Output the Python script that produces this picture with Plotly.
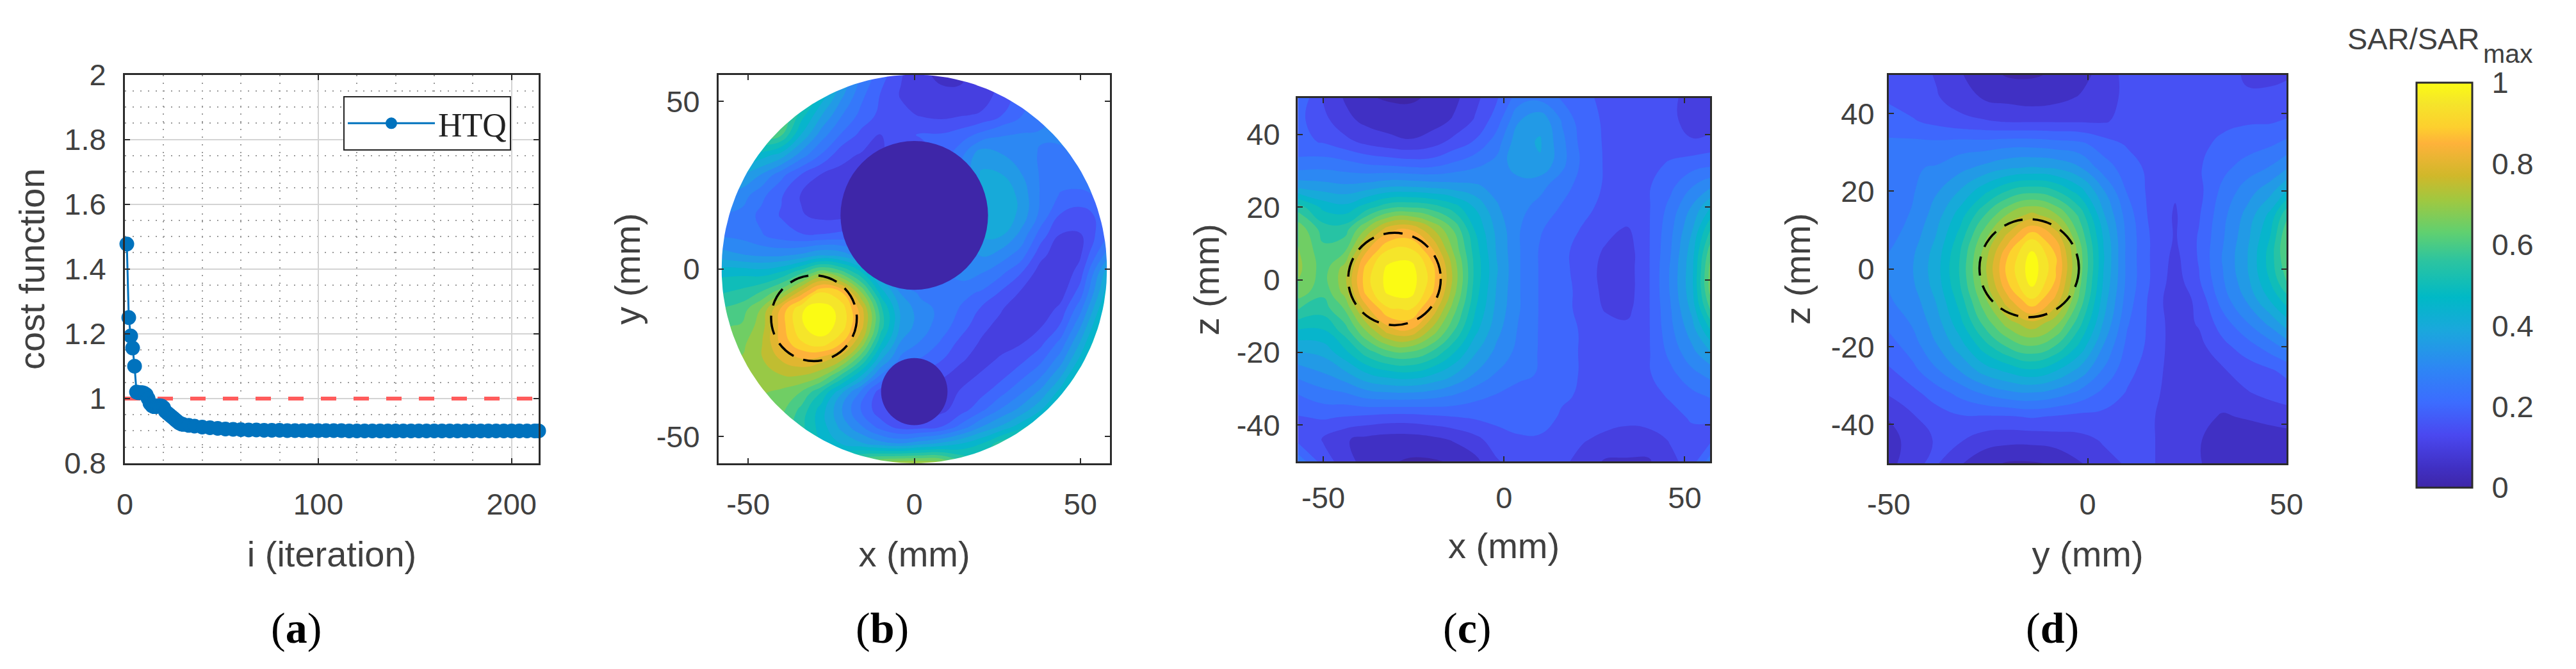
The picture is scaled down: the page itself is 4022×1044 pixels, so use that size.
import numpy as np
import plotly.graph_objects as go

W, H = 4022, 1044

# ---------- data ----------
iter_x = [1,2,3,4,5,6,7,8,9,10,11,12,13,14,15,16,17,18,19,20,21,22,23,24,25,26,27,28,29,30,
          33,36,40,44,48,52,56,60,64,68,72,76,80,84,88,92,96,100,104,108,112,116,120,124,128,
          132,136,140,144,148,152,156,160,164,168,172,176,180,184,188,192,196,200,204,208,212,214]
iter_y = [1.477,1.25,1.193,1.156,1.10,1.02,1.018,1.018,1.018,1.016,1.012,1.0,0.985,0.978,0.975,
          0.975,0.977,0.978,0.977,0.972,0.96,0.955,0.95,0.945,0.94,0.935,0.93,0.925,0.922,0.92,
          0.917,0.915,0.912,0.91,0.908,0.906,0.905,0.904,0.903,0.903,0.902,0.902,0.902,0.901,0.901,
          0.901,0.901,0.901,0.901,0.901,0.901,0.90,0.90,0.90,0.90,0.90,0.90,0.90,0.90,0.90,0.90,
          0.90,0.90,0.90,0.90,0.90,0.90,0.90,0.90,0.90,0.90,0.90,0.90,0.90,0.90,0.90,0.90]
limit_x = [0, 214]
limit_y = [1, 1]

# SAR fields, in percent of the maximum
b_x = [-58,-52,-46,-40,-34,-28,-22,-16,-10,-4,2,8,14,20,26,32,38,44,50,58]
b_y = [58,52,46,40,34,28,22,16,10,4,-1,-7,-12,-17,-22,-27,-32,-37,-42,-47,-52,-58]
b_z = [
 [75,75,75,72,65,50,38,27,20,13,8,7,7,9,13,22,30,30,30,30],
 [75,75,75,70,60,46,34,24,17,12,9,8,8,10,14,20,28,30,32,32],
 [75,75,72,65,50,38,28,21,16,14,12,11,12,13,17,22,26,29,31,33],
 [70,68,62,58,42,30,22,16,12,16,18,18,20,24,27,28,28,28,29,30],
 [48,48,45,40,30,22,14,12,12,15,15,18,26,36,33,30,27,27,28,30],
 [38,37,32,24,17,12,11,11,13,15,15,15,28,38,38,33,27,25,26,28],
 [32,30,24,18,12,11,10,11,13,15,15,15,28,40,42,36,27,22,21,24],
 [27,26,21,17,13,11,11,12,15,15,15,15,26,40,42,36,26,17,15,20],
 [27,26,23,20,18,18,19,20,15,15,15,15,26,38,38,31,20,12,12,22],
 [35,33,32,32,34,38,36,30,26,15,15,20,28,33,30,25,14,9,12,30],
 [46,46,45,48,56,66,60,48,34,15,15,25,30,28,24,18,10,8,15,40],
 [52,54,58,66,80,93,88,68,45,32,26,24,24,22,17,12,9,10,20,45],
 [58,60,68,84,97,100,96,80,54,36,30,26,22,17,13,9,9,14,26,50],
 [62,63,70,85,97,100,96,80,55,36,30,25,20,14,11,10,12,18,32,55],
 [65,66,72,84,92,96,88,72,48,32,27,22,16,12,11,12,16,24,38,60],
 [68,68,72,78,82,80,74,58,38,26,22,18,13,11,13,16,21,30,44,65],
 [70,70,70,72,72,68,56,42,26,15,15,13,11,13,16,21,27,37,52,70],
 [70,70,68,66,62,52,38,26,14,10,10,10,13,16,21,27,34,45,60,72],
 [70,70,66,64,56,45,33,22,14,10,10,11,15,21,28,34,42,52,70,72],
 [70,70,66,62,54,45,36,28,20,15,15,17,24,32,38,45,55,65,72,72],
 [70,70,66,62,55,48,42,38,34,32,35,38,42,47,55,62,70,72,72,72],
 [70,70,66,62,58,55,58,65,70,72,72,70,60,55,60,70,72,72,72,72],
]
c_x = [-57,-50,-44,-38,-32,-26,-20,-14,-8,-2,4,10,16,22,28,34,40,46,52,57]
c_y = [50,44,38,32,26,20,14,8,3,-3,-8,-14,-20,-26,-32,-38,-44,-50]
c_z = [
 [22,12,7,3,2,2,3,6,11,17,25,26,22,18,17,16,16,14,10,10],
 [19,14,9,6,5,4,5,8,13,20,32,36,27,19,17,16,16,14,10,10],
 [19,17,14,11,9,8,10,14,18,25,36,38,29,20,17,16,16,15,13,14],
 [24,25,24,22,21,20,20,23,26,29,36,37,29,21,17,16,16,18,20,21],
 [35,34,33,34,36,36,35,34,33,31,30,29,25,20,17,16,17,21,27,31],
 [55,46,44,50,56,57,55,50,42,33,29,26,22,19,16,15,17,24,33,42],
 [66,55,55,68,80,82,73,62,47,36,28,23,20,17,14,12,17,26,37,52],
 [68,59,62,82,93,94,84,67,50,37,28,22,19,15,12,10,17,27,40,60],
 [69,60,70,90,99,100,90,71,51,38,28,22,19,15,11,10,17,28,41,64],
 [66,59,70,90,99,100,89,70,50,37,28,22,19,16,11,10,17,28,41,64],
 [58,55,63,81,92,93,82,65,48,36,28,22,19,16,12,11,17,27,39,58],
 [47,47,55,68,80,82,71,58,44,34,27,22,19,17,15,14,17,26,35,47],
 [37,39,46,55,61,62,57,48,38,31,26,22,19,17,16,16,17,24,31,37],
 [29,32,36,42,45,46,43,38,32,27,24,22,19,17,16,16,17,21,26,29],
 [22,25,26,29,30,30,29,27,24,22,20,20,18,17,16,16,16,18,21,23],
 [17,18,17,16,15,15,16,17,18,19,19,19,17,16,15,14,15,16,18,18],
 [16,12,8,6,5,5,6,8,11,15,17,17,16,13,11,10,10,13,16,16],
 [26,15,10,5,3,2,2,3,6,12,15,16,14,10,7,7,7,11,15,25],
]
d_x = [-50,-44,-38,-32,-26,-20,-14,-8,-2,4,10,16,22,28,34,40,46,50]
d_y = [50,44,38,32,26,20,14,8,3,-3,-8,-14,-20,-26,-32,-38,-44,-50]
d_z = [
 [17,15,12,8,4,2,2,3,5,10,14,17,17,17,14,12,12,12],
 [17,15,13,10,7,6,5,6,8,10,14,17,17,17,15,13,13,14],
 [19,18,16,14,13,12,12,12,12,12,14,16,17,17,17,17,17,18],
 [24,24,24,25,25,26,26,25,24,20,17,16,17,17,18,20,22,24],
 [27,27,28,31,34,37,38,37,33,25,20,16,16,17,21,25,28,32],
 [25,27,32,38,46,53,56,53,45,33,22,16,13,16,24,30,36,43],
 [25,28,35,45,57,68,74,68,56,38,25,16,12,17,26,34,44,56],
 [26,30,38,50,66,80,92,82,62,42,26,17,12,18,27,36,48,62],
 [28,32,40,53,70,88,100,88,65,43,26,17,11,18,28,37,50,62],
 [28,32,40,53,70,88,100,87,64,42,26,17,10,17,27,36,48,58],
 [27,30,38,50,66,81,92,81,61,40,25,16,9,14,25,33,43,50],
 [24,28,35,46,59,70,76,69,54,37,23,16,10,13,20,27,34,40],
 [20,25,32,40,50,58,62,57,46,32,21,16,10,11,16,20,25,29],
 [17,21,27,33,40,44,47,43,36,27,19,15,10,10,12,15,17,19],
 [13,16,20,24,28,31,32,30,26,21,17,14,10,9,10,12,14,15],
 [8,12,15,17,17,17,18,17,16,16,15,13,10,9,7,8,9,10],
 [5,10,13,13,10,9,9,10,11,13,14,13,10,8,4,4,5,5],
 [5,12,13,8,4,2,2,3,7,11,13,13,10,8,4,4,4,3],
]
# (centre_x, centre_y, radius_x, radius_y)
b_dark = [(0, 16, 22.2, 22.2), (0, -36.6, 10, 10)]
b_target = (-30.2, -14.7, 12.9, 12.8)
c_target = (-30.3, 0.2, 12.8, 12.7)
d_target = (-14.7, 0.2, 12.5, 12.6)
phantom_radius = 58

# ---------- style ----------
TXT = "#404040"
FRAME = "#2b2b2b"
SANS = "Liberation Sans"
SERIF = "Liberation Serif"
FS = 47
FT = 56
parula = [[0,"#3e26a8"],[.05,"#4030c4"],[.13,"#4a48f0"],[.21,"#3c6cff"],[.29,"#2e85f5"],[.39,"#1aa8dc"],
          [.47,"#00b9c6"],[.56,"#2cc4a0"],[.63,"#60d070"],[.71,"#a0c840"],[.77,"#d0b82a"],[.85,"#feb23a"],
          [.89,"#fdcf2e"],[.95,"#f5e52a"],[1,"#fbfb14"]]

boxes = {
 "a": (195, 841, 116.5, 723),
 "b": (1122, 1733, 116.5, 723),
 "c": (2026, 2670, 153, 720),
 "d": (2949, 3570, 116.5, 723),
}
def dom(k):
    x0, x1, y0, y1 = boxes[k]
    return [x0/W, x1/W], [1-y1/H, 1-y0/H]

fig = go.Figure()

def axis(dom_, rng, ticks, title, standoff, lblgap, anchor=None):
    d = dict(domain=dom_, range=rng, tickvals=ticks, ticktext=[str(t) for t in ticks], automargin=False,
             showgrid=False, zeroline=False, showline=True, mirror="ticks", linecolor=FRAME,
             linewidth=3, ticks="inside", ticklen=8, tickwidth=2, tickcolor=FRAME,
             tickfont=dict(family=SANS, size=FS, color=TXT), ticklabelstandoff=lblgap,
             title=dict(text=title, standoff=standoff, font=dict(family=SANS, size=FT, color=TXT)))
    if anchor:
        d["anchor"] = anchor
    return d

# panel a
fig.add_trace(go.Scatter(x=limit_x, y=limit_y, mode="lines", showlegend=False,
                         line=dict(color="#ff5c5c", width=6, dash="24px,27px"), xaxis="x", yaxis="y"))
fig.add_trace(go.Scatter(x=iter_x, y=iter_y, mode="lines+markers", name="HTQ", cliponaxis=False,
                         line=dict(color="#0072bd", width=3),
                         marker=dict(color="#0072bd", size=21, line=dict(color="#0072bd", width=2)),
                         xaxis="x", yaxis="y"))
dx, dy = dom("a")
ax_a = axis(dx, [0, 214], [0, 100, 200], "i (iteration)", 33, 21)
ay_a = axis(dy, [0.8, 2], [0.8, 1, 1.2, 1.4, 1.6, 1.8, 2], "cost function", 13, 17)
grid = dict(showgrid=True, gridcolor="#d4d4d4", gridwidth=2)
ax_a.update(grid, minor=dict(dtick=20, showgrid=True, gridcolor="#9a9a9a", griddash="2px,10px", gridwidth=2, ticks=""))
ay_a.update(grid, minor=dict(dtick=0.05, showgrid=True, gridcolor="#9a9a9a", griddash="2px,10px", gridwidth=2, ticks=""))
fig.update_layout(xaxis=ax_a, yaxis=ay_a)

# field panels
def field(x, y, z, xa, ya):
    fig.add_trace(go.Contour(x=x, y=y, z=(np.array(z)/100).tolist(), colorscale=parula, zmin=0, zmax=1, showscale=False,
                             contours=dict(coloring="fill", start=0.025, end=0.975, size=0.05, showlines=False),
                             line=dict(width=0, smoothing=1.3), xaxis=xa, yaxis=ya))
field(b_x, b_y, b_z, "x2", "y2")
field(c_x, c_y, c_z, "x3", "y3")
field(d_x, d_y, d_z, "x4", "y4")

# white surround outside the phantom
t = np.linspace(0, 2*np.pi, 181)
R = phantom_radius
E = 70
mask_x = [-E, E, E, -E, -E, -R] + list(-R*np.cos(t)) + [-E]
mask_y = [E, E, -E, -E, 0, 0] + list(-R*np.sin(t)) + [0]
fig.add_trace(go.Scatter(x=mask_x, y=mask_y, mode="lines", fill="toself", fillcolor="white",
                         line=dict(width=0), showlegend=False, hoverinfo="skip", xaxis="x2", yaxis="y2"))

# hidden carrier of the native colour bar
fig.add_trace(go.Heatmap(x=[1000, 1001], y=[0, 1], z=[[0, 0], [1, 1]], colorscale=parula, zmin=0, zmax=1,
                         xaxis="x4", yaxis="y4", hoverinfo="skip",
                         colorbar=dict(x=3773/W, xanchor="left", y=1-129/H, yanchor="top", yref="paper",
                                       lenmode="pixels", len=632, thicknessmode="pixels", thickness=87,
                                       xpad=0, ypad=0, outlinecolor=FRAME, outlinewidth=3,
                                       tickvals=[0, .2, .4, .6, .8, 1], ticktext=["0","0.2","0.4","0.6","0.8","1"],
                                       ticks="outside", ticklen=20, tickcolor="rgba(0,0,0,0)",
                                       tickfont=dict(family=SANS, size=FS, color=TXT))))

d2x, d2y = dom("b")
d3x, d3y = dom("c")
d4x, d4y = dom("d")
fig.update_layout(
    xaxis2=axis(d2x, [-58.9, 58.9], [-50, 0, 50], "x (mm)", 33, 21, "y2"),
    yaxis2=axis(d2y, [-58, 58], [-50, 0, 50], "y (mm)", 8, 17, "x2"),
    xaxis3=axis(d3x, [-57.1, 57], [-50, 0, 50], "x (mm)", 30, 14, "y3"),
    yaxis3=axis(d3y, [-50, 50], [-40, -20, 0, 20, 40], "z (mm)", 10, 15, "x3"),
    xaxis4=axis(d4x, [-50, 50], [-50, 0, 50], "y (mm)", 33, 21, "y4"),
    yaxis4=axis(d4y, [-50, 50], [-40, -20, 0, 20, 40], "z (mm)", 15, 10, "x4"),
)

shapes = []
for cx, cy, rx, ry in b_dark:
    shapes.append(dict(type="circle", xref="x2", yref="y2", x0=cx-rx, x1=cx+rx, y0=cy-ry, y1=cy+ry,
                       fillcolor="#3e26a8", line=dict(width=0), layer="above"))
for (cx, cy, rx, ry), xr, yr in [(b_target, "x2", "y2"), (c_target, "x3", "y3"), (d_target, "x4", "y4")]:
    shapes.append(dict(type="circle", xref=xr, yref=yr, x0=cx-rx, x1=cx+rx, y0=cy-ry, y1=cy+ry,
                       line=dict(color="black", width=3.5, dash="30px,16px"), layer="above"))

def note(text, x, y, font, size, anchor="center", color="black"):
    return dict(text=text, xref="paper", yref="paper", x=x/W, y=1-y/H, showarrow=False, xanchor=anchor,
                yanchor="middle", font=dict(family=font, size=size, color=color))
ann = [
    note("(<b>a</b>)", 462, 980, SERIF, 68),
    note("(<b>b</b>)", 1377, 980, SERIF, 68),
    note("(<b>c</b>)", 2291, 980, SERIF, 68),
    note("(<b>d</b>)", 3204, 980, SERIF, 68),
    note("SAR/SAR", 3663, 60, SANS, FS, "left", TXT),
    note("max", 3875, 84, SANS, 41, "left", TXT),
]

fig.update_layout(
    width=W, height=H, autosize=False, margin=dict(l=0, r=0, t=0, b=0),
    paper_bgcolor="white", plot_bgcolor="white", shapes=shapes, annotations=ann,
    legend=dict(x=536/W, y=1-150/H, xanchor="left", yanchor="top", bgcolor="white",
                bordercolor="#222222", borderwidth=2, itemwidth=136, entrywidth=141, entrywidthmode="pixels",
                font=dict(family=SERIF, size=52, color="#222222")),
)
fig.write_html("out.html", config=dict(displayModeBar=False),
               post_script="document.body.style.margin='0';document.body.style.overflow='hidden';")
